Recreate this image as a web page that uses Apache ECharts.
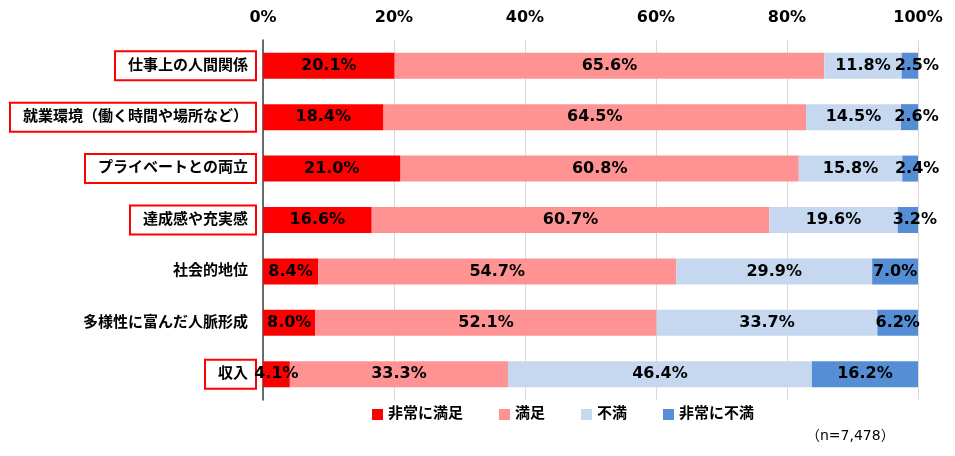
<!DOCTYPE html>
<html><head><meta charset="utf-8">
<script src="https://cdn.jsdelivr.net/npm/echarts@6/dist/echarts.min.js"></script>
<style>html,body{margin:0;padding:0;background:#fff}#c{width:955px;height:456px}</style>
</head><body><div id="c"></div>
<script>
const categories = ['仕事上の人間関係','就業環境（働く時間や場所など）','プライベートとの両立','達成感や充実感','社会的地位','多様性に富んだ人脈形成','収入'];
const boxed = ['仕事上の人間関係','就業環境（働く時間や場所など）','プライベートとの両立','達成感や充実感','収入'];
const seriesNames = ['非常に満足','満足','不満','非常に不満'];
const verySatisfied = [20.1,18.4,21.0,16.6,8.4,8.0,4.1];
const satisfied = [65.6,64.5,60.8,60.7,54.7,52.1,33.3];
const dissatisfied = [11.8,14.5,15.8,19.6,29.9,33.7,46.4];
const veryDissatisfied = [2.5,2.6,2.4,3.2,7.0,6.2,16.2];
const tickValues = [0,20,40,60,80,100];
const colors = ['#FF0000','#FF9393','#C6D8F0','#558ED5'];
const FF = 'DejaVu Sans, "Noto Sans CJK JP", sans-serif';
const chart = echarts.init(document.getElementById('c'));
const dataSets = [verySatisfied,satisfied,dissatisfied,veryDissatisfied];
chart.setOption({
  animation:false,
  grid:{left:263,right:37,top:40,bottom:56,containLabel:false},
  legend:{data:seriesNames,left:367,top:402,itemWidth:11,itemHeight:11,itemGap:36,icon:'rect',
    textStyle:{fontFamily:FF,fontSize:15,fontWeight:'bold',color:'#000'}},
  xAxis:{type:'value',position:'top',min:0,max:100,interval:20,
    axisLabel:{formatter:v=>v+'%',fontFamily:FF,fontSize:16,fontWeight:'bold',color:'#000',margin:14},
    axisLine:{show:false},axisTick:{show:false},
    splitLine:{lineStyle:{color:'#D9D9D9',width:1}}},
  yAxis:{type:'category',inverse:true,data:categories,
    axisLine:{show:true,lineStyle:{color:'#404040',width:1.5}},axisTick:{show:false},
    axisLabel:{margin:8,fontFamily:FF,fontSize:15,fontWeight:'bold',color:'#000',
      formatter:v=>boxed.includes(v)?'{b|'+v+'}':'{n|'+v+'}',
      rich:{
        b:{fontFamily:FF,fontSize:15,lineHeight:16,fontWeight:'bold',color:'#000',borderColor:'#FF0000',borderWidth:2,backgroundColor:'#fff',padding:[6,7,6,12]},
        n:{fontFamily:FF,fontSize:15,lineHeight:16,fontWeight:'bold',color:'#000',padding:[6,7,6,12]}
      }}},
  series:dataSets.map((d,i)=>({
    name:seriesNames[i],type:'bar',stack:'all',barWidth:26,
    data:d.map(v=>(i===3&&v<4)?{value:v,label:{offset:[7,0]}}:v),
    itemStyle:{color:colors[i]},
    label:{show:true,position:'inside',formatter:p=>p.value.toFixed(1)+'%',
      fontFamily:FF,fontSize:16,fontWeight:'bold',color:'#000'}
  })),
  graphic:[{type:'text',left:806,top:429,style:{text:'（n=7,478）',fontFamily:FF,fontSize:14,fill:'#000'}}]
});
</script></body></html>
